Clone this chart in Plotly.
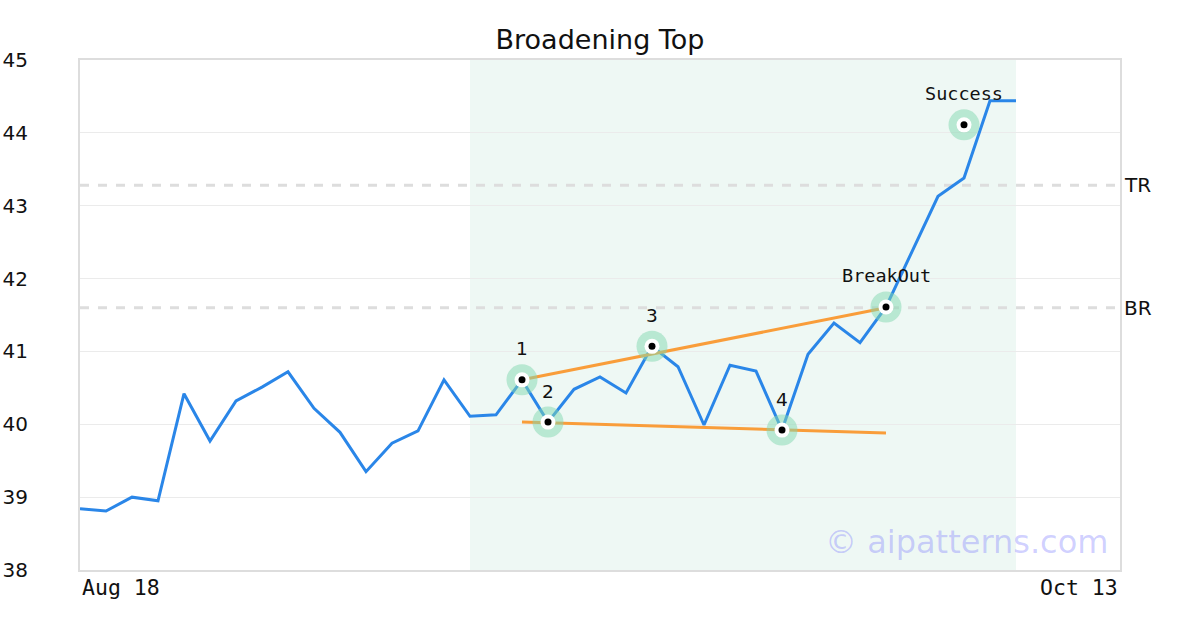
import plotly.graph_objects as go

# ---- data ----
x_idx = list(range(37))
close = [38.84, 38.81, 39.00, 38.95, 40.42, 39.77, 40.32, 40.51, 40.72, 40.22,
         39.89, 39.35, 39.74, 39.91, 40.61, 40.11, 40.13, 40.61, 40.03, 40.48,
         40.65, 40.43, 41.07, 40.79, 39.99, 40.81, 40.73, 39.92, 40.96, 41.39,
         41.12, 41.61, 42.37, 43.13, 43.38, 44.44, 44.44]
tick_labels = ["Aug 18", "Oct 13"]
tick_pos = [0, 40]

pat_x = [17, 18, 22, 27, 31, 34]
pat_y = [40.61, 40.03, 41.07, 39.92, 41.61, 44.11]
pat_labels = ["1", "2", "3", "4", "BreakOut", "Success"]

upper_x = [17, 31]
upper_y = [40.61, 41.60]
lower_x = [17, 31]
lower_y = [40.03, 39.88]

level_names = ["TR", "BR"]
level_values = [43.28, 41.60]

shade_range = [15, 36]
title = "Broadening Top"
watermark = "© aipatterns.com"

fig = go.Figure()

# shaded pattern zone
fig.add_shape(type="rect", xref="x", yref="y", x0=shade_range[0], x1=shade_range[1],
              y0=38, y1=45, fillcolor="#eef8f4", line_width=0, layer="below")

# level lines
for nm, v in zip(level_names, level_values):
    fig.add_shape(type="line", xref="x", yref="y", x0=0, x1=40, y0=v, y1=v,
                  line=dict(color="#dddddd", width=3, dash="dash"), layer="below")
    fig.add_annotation(x=1, xref="paper", y=v, yref="y", text=nm, showarrow=False,
                       xanchor="left", xshift=2,
                       font=dict(family="DejaVu Sans", size=20, color="#111111"))

# price line
fig.add_trace(go.Scatter(x=x_idx, y=close, mode="lines",
                         line=dict(color="#2a86e8", width=3), hoverinfo="skip"))

# trend lines
fig.add_trace(go.Scatter(x=upper_x, y=upper_y, mode="lines",
                         line=dict(color="#f99d3a", width=3), hoverinfo="skip"))
fig.add_trace(go.Scatter(x=lower_x, y=lower_y, mode="lines",
                         line=dict(color="#f99d3a", width=3), hoverinfo="skip"))

# pattern point markers
fig.add_trace(go.Scatter(x=pat_x, y=pat_y, mode="markers",
                         marker=dict(size=31, color="rgba(130,215,175,0.5)", line_width=0),
                         hoverinfo="skip"))
fig.add_trace(go.Scatter(x=pat_x, y=pat_y, mode="markers",
                         marker=dict(size=15, color="white", line_width=0), hoverinfo="skip"))
fig.add_trace(go.Scatter(x=pat_x, y=pat_y, mode="markers",
                         marker=dict(size=7, color="black", line_width=0), hoverinfo="skip"))

for px, py, lb in zip(pat_x, pat_y, pat_labels):
    fam = "DejaVu Sans" if lb.isdigit() else "DejaVu Sans Mono"
    fig.add_annotation(x=px, y=py, text=lb, showarrow=False, yshift=31,
                       font=dict(family=fam, size=18.5, color="#111111"))

# x tick labels
for i, (pos, lb) in enumerate(zip(tick_pos, tick_labels)):
    fig.add_annotation(x=pos, xref="x", y=0, yref="paper", text=lb, showarrow=False,
                       xanchor="left" if i == 0 else "right", yanchor="top", yshift=-3,
                       font=dict(family="DejaVu Sans Mono", size=21.5, color="#111111"))

# watermark
fig.add_annotation(x=(1110 - 80) / 1040, xref="paper", y=0.055, yref="paper", text=watermark,
                   showarrow=False, xanchor="right", yanchor="middle",
                   font=dict(family="DejaVu Sans", size=32, color="rgba(110,110,255,0.32)"))

fig.update_layout(
    width=1200, height=630,
    margin=dict(l=80, r=80, t=60, b=60),
    paper_bgcolor="white", plot_bgcolor="white",
    showlegend=False,
    title=dict(text=title, x=0.5, xanchor="center",
               y=1 - 40 / 630, yanchor="middle",
               font=dict(family="DejaVu Sans", size=27, color="#111111")),
    xaxis=dict(range=[0, 40], showgrid=False, showticklabels=False, zeroline=False,
               automargin=False,
               showline=True, mirror=True, linecolor="#dddddd", linewidth=2, fixedrange=True),
    yaxis=dict(range=[38, 45], tickvals=list(range(38, 46)), showgrid=True,
               gridcolor="#ebebeb", gridwidth=1, zeroline=False, automargin=False,
               showline=True, mirror=True, linecolor="#dddddd", linewidth=2,
               ticks="", ticklabelstandoff=46,
               tickfont=dict(family="DejaVu Sans", size=20, color="#111111")),
)

fig.write_html("out.html", config={"displayModeBar": False},
               post_script="document.body.style.margin='0';")
